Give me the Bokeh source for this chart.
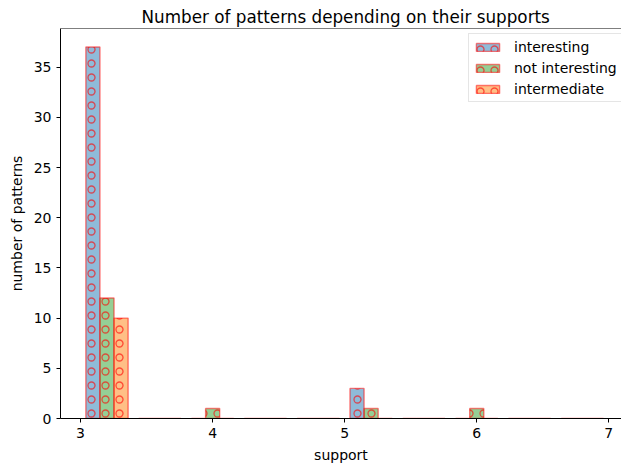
import numpy as np
from bokeh.plotting import figure
from bokeh.models import (Range1d, FixedTicker, Legend, LegendItem, Span,
                          ColumnDataSource)
from bokeh.embed import file_html
from bokeh.resources import INLINE

# Histogram counts per support bin for each pattern category
series_names = ["interesting", "not interesting", "intermediate"]
bin_edges = [3.0, 3.4, 3.8, 4.2, 4.6, 5.0, 5.4, 5.8, 6.2, 6.6, 7.0]
interesting = [37, 0, 0, 0, 0, 3, 0, 0, 0, 0]
not_interesting = [12, 0, 1, 0, 0, 1, 0, 1, 0, 0]
intermediate = [10, 0, 0, 0, 0, 0, 0, 0, 0, 0]
x_ticks = [3, 4, 5, 6, 7]
y_ticks = [0, 5, 10, 15, 20, 25, 30, 35]

colors = ["#1f77b4", "#2ca02c", "#ff7f0e"]
FONT = "DejaVu Sans"

# side-by-side bars inside each bin (80% of the bin width shared by the series)
edges = np.array(bin_edges)
bin_w = np.diff(edges)
centers = 0.5 * (edges[:-1] + edges[1:])
n_series = len(series_names)
group = 0.8
bar_w = group * bin_w / n_series
first_offset = -0.5 * group * bin_w * (1 - 1 / n_series)

p = figure(width=621, height=466, output_backend="svg", toolbar_location=None,
           x_range=Range1d(2.848, 7.096), y_range=Range1d(0, 38.85),
           min_border_left=60, min_border_right=0, min_border_top=28,
           min_border_bottom=48)

p.title.text = "Number of patterns depending on their supports"
p.title.text_font = FONT
p.title.text_font_size = "16.8px"
p.title.text_font_style = "normal"
p.title.text_color = "#000000"
p.title.align = "left"
p.title.offset = 81
p.title.standoff = 4

p.xgrid.visible = False
p.ygrid.visible = False
p.outline_line_color = None

for ax, ticks, label in ((p.xaxis, x_ticks, "support"), (p.yaxis, y_ticks, "number of patterns")):
    ax.ticker = FixedTicker(ticks=ticks)
    ax.axis_label = label
    ax.axis_label_text_font = FONT
    ax.axis_label_text_font_size = "14px"
    ax.axis_label_text_font_style = "normal"
    ax.axis_label_text_color = "#000000"
    ax.major_label_text_font = FONT
    ax.major_label_text_font_size = "14px"
    ax.major_label_text_color = "#000000"
    ax.minor_tick_line_color = None
    ax.major_tick_in = 0
    ax.major_tick_out = 4
    ax.major_tick_line_color = "black"
    ax.axis_line_color = "black"
    ax.major_label_standoff = 5
    ax.axis_label_standoff = 6

# top spine of the axes box
p.add_layout(Span(location=38.85, dimension="width", line_color="black", line_width=1))

items = []
for i, (name, counts) in enumerate(zip(series_names, [interesting, not_interesting, intermediate])):
    mid = centers + first_offset + i * bar_w
    src = ColumnDataSource(dict(left=mid - bar_w / 2, right=mid + bar_w / 2,
                                bottom=np.zeros(len(counts)), top=counts))
    r = p.quad(left="left", right="right", bottom="bottom", top="top", source=src,
               fill_color=colors[i], fill_alpha=0.5,
               line_color="red", line_alpha=0.5, line_width=1.4,
               hatch_pattern="ring", hatch_color="red", hatch_alpha=0.6,
               hatch_scale=14, hatch_weight=1.3)
    items.append(LegendItem(label=name, renderers=[r]))

legend = Legend(items=items, location=(408, 316), margin=0, padding=4,
                spacing=4, glyph_width=29, glyph_height=10, label_height=17,
                label_standoff=12, label_text_font=FONT, label_text_font_size="14px",
                label_text_color="#000000", border_line_color="#cccccc",
                border_line_width=1, background_fill_alpha=0.8)
p.add_layout(legend)

open("out.html", "w").write(file_html(p, INLINE))
